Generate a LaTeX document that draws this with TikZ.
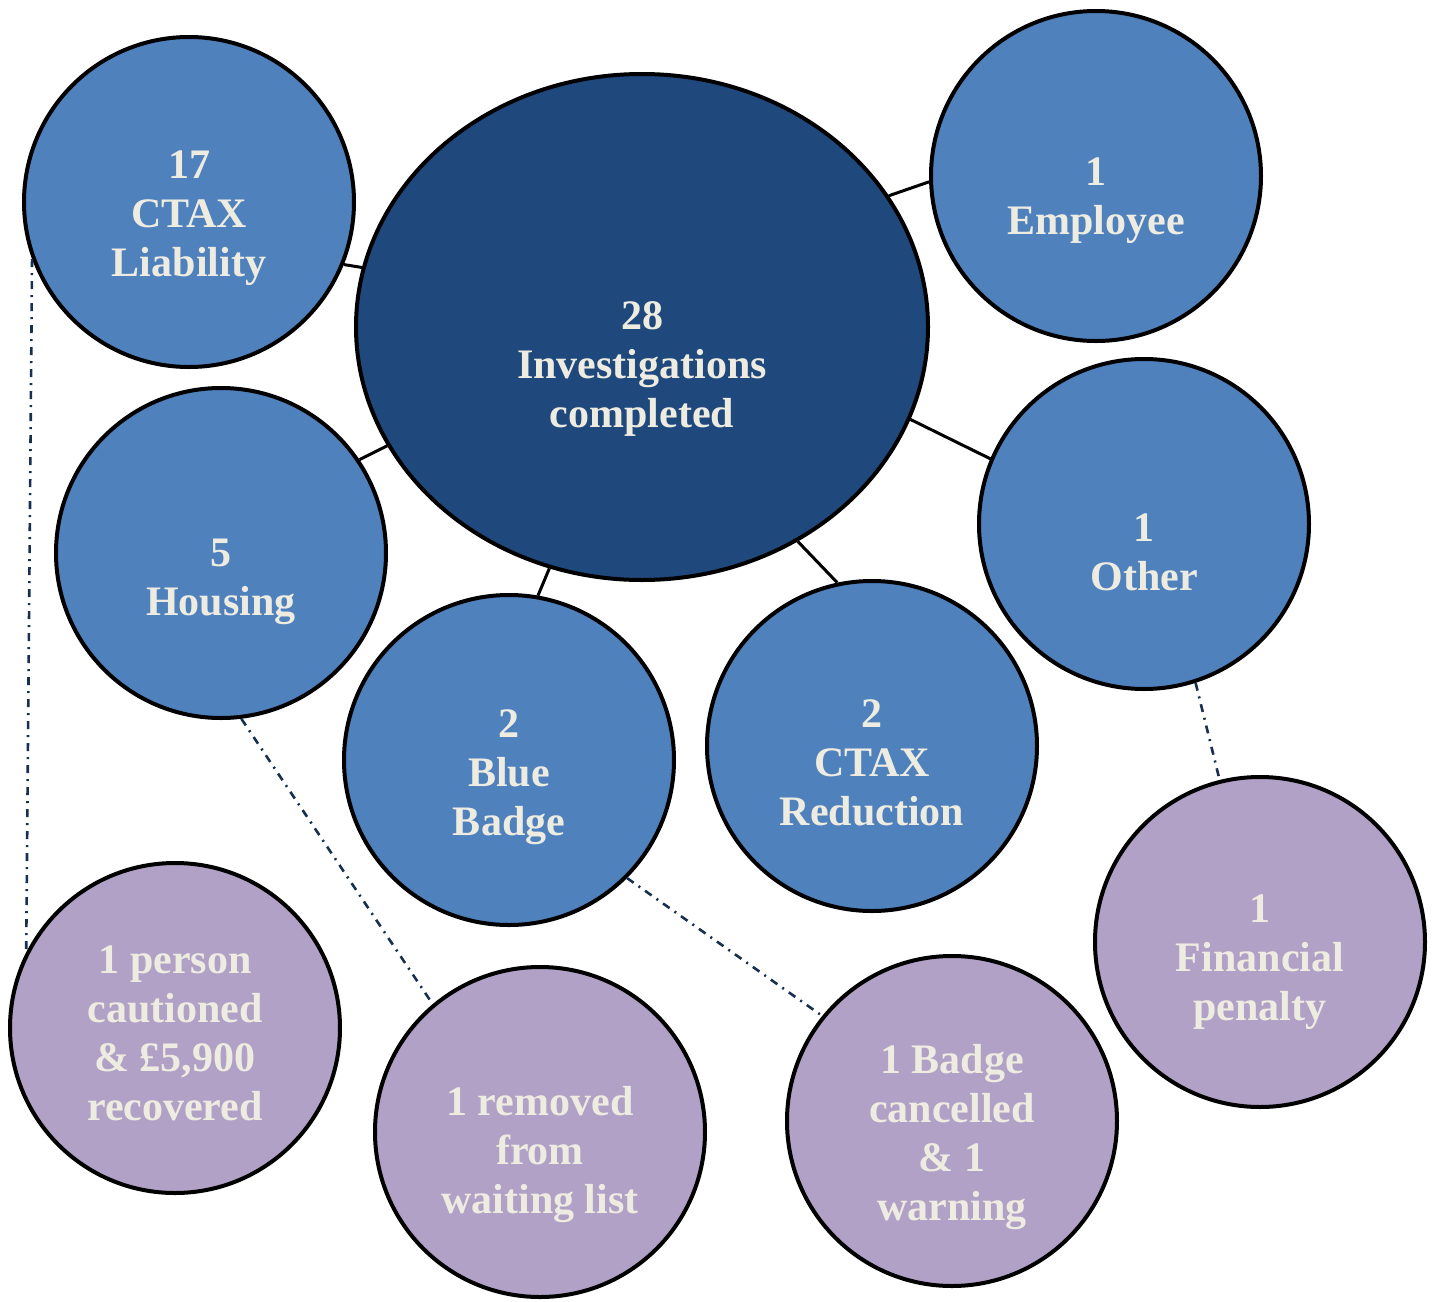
\documentclass[tikz,border=0pt]{standalone}
\usepackage{fontspec}
\setmainfont{Liberation Serif}
\usetikzlibrary{calc,positioning,shapes.geometric}
\definecolor{color_fill_main}{HTML}{1f497d}
\definecolor{color_fill_topic}{HTML}{4f81bd}
\definecolor{color_fill_outcome}{HTML}{b2a1c7}
\definecolor{color_text}{HTML}{eeece1}
\definecolor{color_link}{HTML}{17304f}

\tikzset{
	bubble/.style={circle,draw=black,line width=2pt,inner sep=0,minimum size=165pt},
	topic/.style={bubble,fill=color_fill_topic},
	outcome/.style={bubble,fill=color_fill_outcome},
	lbl/.style={text=color_text,align=center,font=\fontsize{21}{24.5}\selectfont\bfseries},
	spoke/.style={line width=1.5pt,black},
	result/.style={line width=1.3pt,color_link,dash pattern=on 4pt off 3pt on 1pt off 3pt}
}

\begin{document}
\begin{tikzpicture}[x=0.5pt,y=-0.5pt]
				\useasboundingbox (0, 0) rectangle (1437, 1302);
				% Points
				\coordinate (c-main) at (642, 327);

				% Bubbles
				\node[ellipse,draw=black,line width=2pt,fill=color_fill_main,inner sep=0,
					minimum width=286pt,minimum height=253pt] (main) at (c-main) {};
				\node[topic] (liab) at (189, 202) {};
				\node[topic] (empl) at (1096, 176) {};
				\node[topic] (hous) at (221, 553) {};
				\node[topic] (other) at (1144, 524) {};
				\node[topic] (badge) at (509, 760) {};
				\node[topic] (reduc) at (872, 746) {};
				\node[outcome] (caution) at (175, 1028) {};
				\node[outcome] (removed) at (540, 1132) {};
				\node[outcome] (cancel) at (952, 1121) {};
				\node[outcome] (penalty) at (1260, 942) {};

				% Spokes
				\draw[spoke] (main.168.6) -- (liab.338);
				\draw[spoke] (main.28.6) -- (empl.182.4);
				\draw[spoke] (main.205.5) -- (hous.34);
				\draw[spoke] (main.341) -- (other.157.4);
				\draw[spoke] (main.249.5) -- (badge.80.3);
				\draw[spoke] (main.306) -- (reduc.102.4);

				% Outcomes
				\draw[result] (liab.200) -- (caution.153);
				\draw[result] (hous.277) -- (removed.130);
				\draw[result] (badge.315) -- (cancel.141);
				\draw[result] (other.288) -- (penalty.104);

				% Labels
				\node[lbl] (main-t) at ($(main)+(0,42)$) {28\\Investigations\\completed};
				\node[lbl] (liab-t) at ($(liab)+(0,16)$) {17\\CTAX\\Liability};
				\node[lbl] (empl-t) at ($(empl)+(0,25)$) {1\\Employee};
				\node[lbl] (hous-t) at ($(hous)+(0,29)$) {5\\Housing};
				\node[lbl] (other-t) at ($(other)+(0,28)$) {1\\Other};
				\node[lbl] (badge-t) at ($(badge)+(0,17)$) {2\\Blue\\Badge};
				\node[lbl] (reduc-t) at ($(reduc)+(0,17)$) {2\\CTAX\\Reduction};
				\node[lbl] (caution-t) at ($(caution)+(0,5)$) {1 person\\cautioned\\\& £5,900\\recovered};
				\node[lbl] (removed-t) at ($(removed)+(0,23)$) {1 removed\\from\\waiting list};
				\node[lbl] (cancel-t) at ($(cancel)+(0,16)$) {1 Badge\\cancelled\\\& 1\\warning};
				\node[lbl] (penalty-t) at ($(penalty)+(0,20)$) {1\\Financial\\penalty};
\end{tikzpicture}
\end{document}
